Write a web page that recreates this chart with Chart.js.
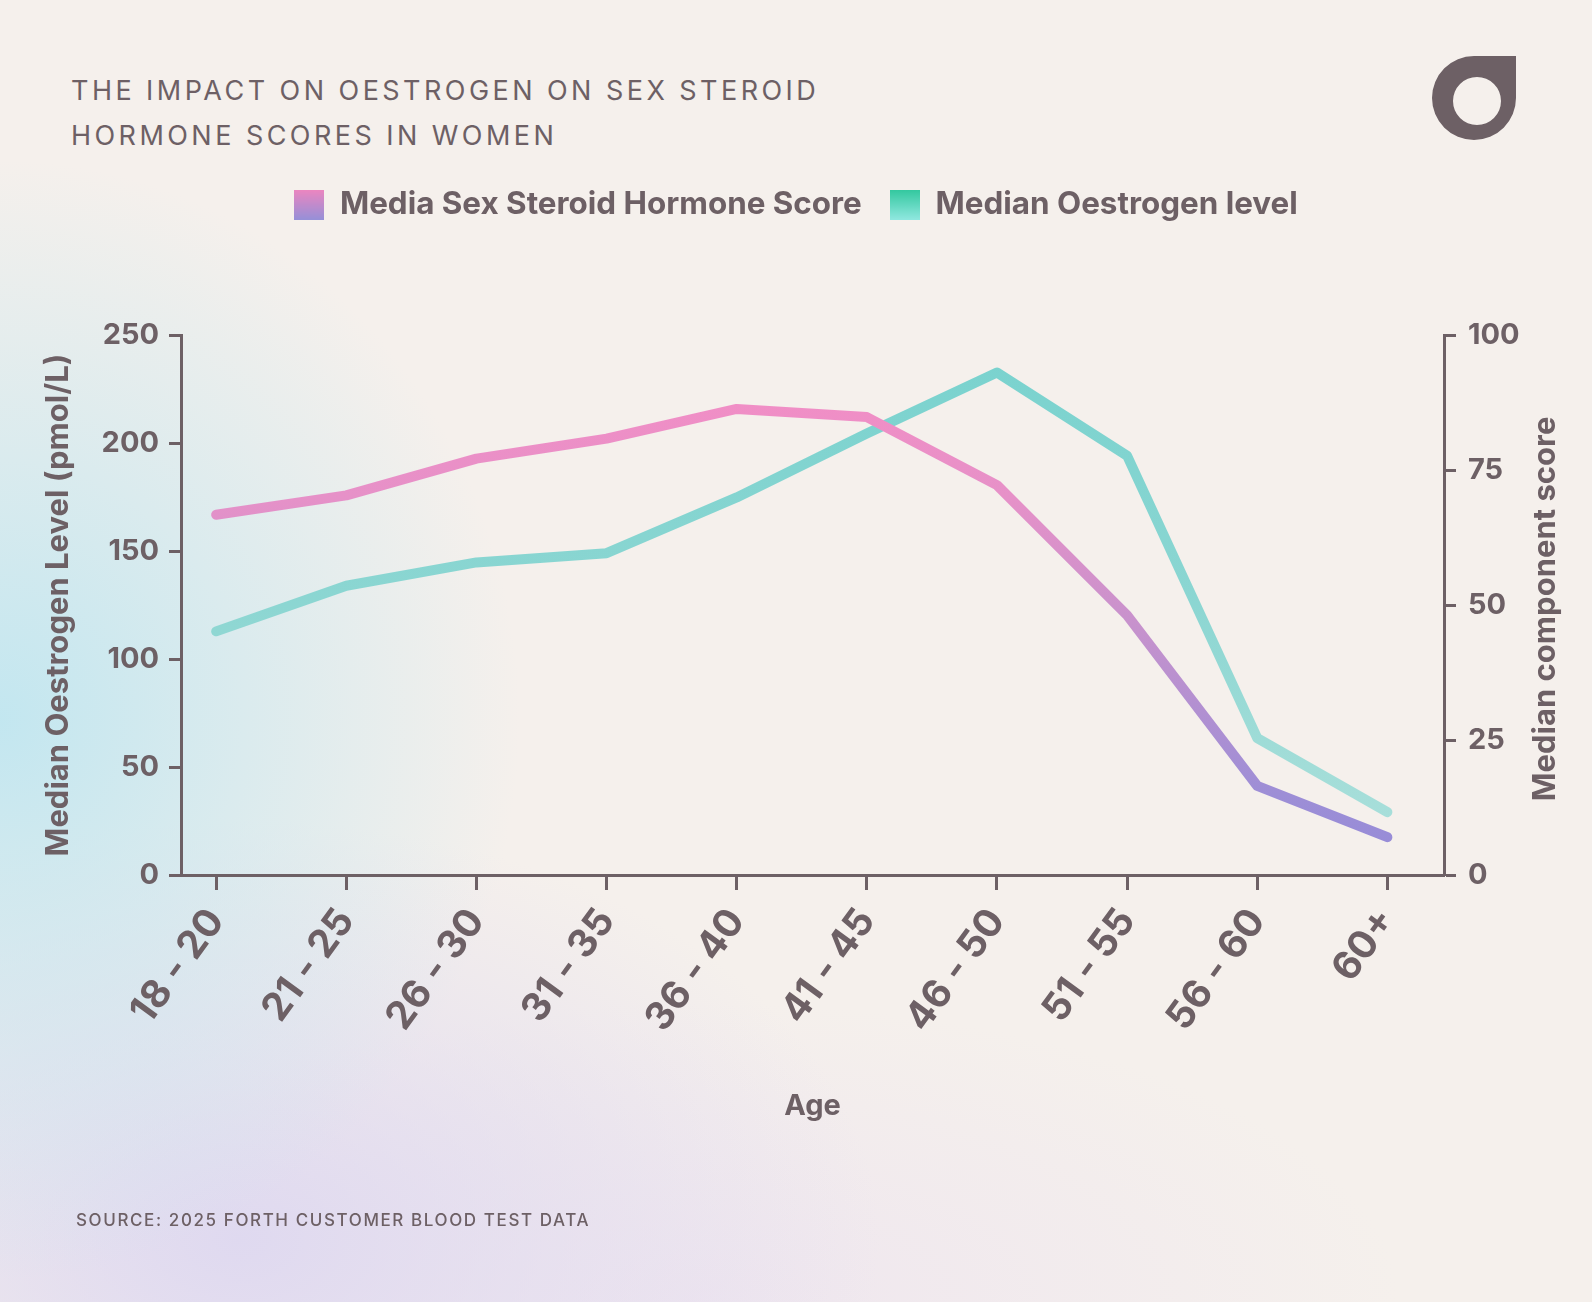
<!DOCTYPE html>
<html>
<head>
<meta charset="utf-8">
<script src="https://cdn.jsdelivr.net/npm/chart.js@4.4.1/dist/chart.umd.min.js"></script>
<style>
  html, body { margin: 0; padding: 0; }
  body {
    width: 1592px; height: 1302px; position: relative; overflow: hidden;
    background:
      radial-gradient(ellipse 520px 560px at 0px 720px, rgba(192, 230, 240, 0.95), rgba(192, 230, 240, 0) 100%),
      radial-gradient(ellipse 640px 420px at 240px 1240px, rgba(222, 216, 240, 0.95), rgba(222, 216, 240, 0) 100%),
      radial-gradient(ellipse 700px 300px at 700px 1302px, rgba(236, 226, 240, 0.7), rgba(236, 226, 240, 0) 100%),
      #f5f0ec;
    font-family: Inter, "Noto Sans", sans-serif;
    color: #6d6065;
  }
  #title {
    position: absolute; left: 71px; top: 68px;
    font-size: 27px; font-weight: 400; letter-spacing: 3.45px; line-height: 45px;
  }
  #source {
    position: absolute; left: 76px; top: 1210px;
    font-size: 17px; font-weight: 500; letter-spacing: 1.6px;
  }
  #logo { position: absolute; left: 1432px; top: 56px; }
  #wrap { position: absolute; left: 0; top: 0; width: 1592px; height: 1302px; }
</style>
</head>
<body>
<div id="title">THE IMPACT ON OESTROGEN ON SEX STEROID<br>HORMONE SCORES IN WOMEN</div>
<svg id="logo" width="84" height="84" viewBox="0 0 84 84">
  <path fill="#6d6065" fill-rule="evenodd"
    d="M0 42 A42 42 0 0 0 42 84 A42 42 0 0 0 84 42 L84 0 L42 0 A42 42 0 0 0 0 42 Z
       M21 45 A24 24 0 1 0 69 45 A24 24 0 1 0 21 45 Z"/>
</svg>
<div id="wrap"><canvas id="myChart"></canvas></div>
<div id="source">SOURCE: 2025 FORTH CUSTOMER BLOOD TEST DATA</div>

<script>
const ageGroups = ['18 - 20', '21 - 25', '26 - 30', '31 - 35', '36 - 40', '41 - 45', '46 - 50', '51 - 55', '56 - 60', '60+'];
const hormoneScore = [66.7, 70.3, 77.1, 80.8, 86.3, 84.8, 72.2, 48.1, 16.5, 7.0];
const oestrogenLevel = [112.8, 133.9, 144.7, 149.0, 174.8, 204.4, 232.6, 194.1, 63.4, 29.1];

const textColor = '#6d6065';

// little gradient squares for the legend
function legendBox(top, bottom) {
  const c = document.createElement('canvas');
  c.width = 30; c.height = 30;
  const g = c.getContext('2d');
  const grad = g.createLinearGradient(0, 0, 0, 30);
  grad.addColorStop(0, top);
  grad.addColorStop(1, bottom);
  g.fillStyle = grad;
  g.fillRect(0, 0, 30, 30);
  return c;
}

function vGradient(ctx, stops) {
  const area = ctx.chart.chartArea;
  if (!area) return stops[0][1];
  const grad = ctx.chart.ctx.createLinearGradient(0, area.top, 0, area.bottom);
  stops.forEach(s => grad.addColorStop(s[0], s[1]));
  return grad;
}

const pinkStops = [[0, '#f88cc4'], [0.3, '#e691c8'], [0.55, '#c592cd'], [0.85, '#9d8ed6'], [1, '#948bd8']];
const tealStops = [[0, '#78d2ce'], [0.5, '#8cd6d2'], [0.8, '#a2ddd8'], [1, '#ade0dc']];

// push the plot down below the legend
const legendSpacer = {
  id: 'legendSpacer',
  beforeInit(chart) {
    const fit = chart.legend.fit;
    chart.legend.fit = function () {
      fit.bind(chart.legend)();
      this.height = 174;
    };
  }
};

// right axis title reads bottom-to-top in the original
const rightTitle = {
  id: 'rightTitle',
  afterDraw(chart) {
    const s = chart.scales.y1;
    const c = chart.ctx;
    c.save();
    c.translate(s.right - 46, (s.top + s.bottom) / 2 + 4);
    c.rotate(-Math.PI / 2);
    c.font = '700 31px Inter';
    c.fillStyle = textColor;
    c.textAlign = 'center';
    c.textBaseline = 'middle';
    c.fillText('Median component score', 0, 0);
    c.restore();
  }
};

const boldFont = size => ({ family: 'Inter', weight: '700', size: size });

const ctx = document.getElementById('myChart');

new Chart(ctx, {
  type: 'line',
  data: {
    datasets: [{
      label: 'Media Sex Steroid Hormone Score',
      data: hormoneScore.map((v, i) => ({ x: i, y: v })),
      yAxisID: 'y1',
      borderColor: c => vGradient(c, pinkStops),
      borderWidth: 10,
      borderCapStyle: 'round',
      borderJoinStyle: 'round',
      pointRadius: 0,
      pointStyle: legendBox('#ec86c0', '#9690d8')
    }, {
      label: 'Median Oestrogen level',
      data: oestrogenLevel.map((v, i) => ({ x: i, y: v })),
      yAxisID: 'y',
      borderColor: c => vGradient(c, tealStops),
      borderWidth: 10,
      borderCapStyle: 'round',
      borderJoinStyle: 'round',
      pointRadius: 0,
      pointStyle: legendBox('#33c89f', '#90e8e0')
    }]
  },
  options: {
    responsive: true,
    maintainAspectRatio: false,
    animation: false,
    layout: { padding: { top: 161, left: 0, right: 0, bottom: 160 } },
    plugins: {
      legend: {
        position: 'top',
        labels: {
          usePointStyle: true,
          color: textColor,
          font: boldFont(31.4),
          padding: 28,
          boxWidth: 30
        }
      },
      tooltip: { enabled: false }
    },
    scales: {
      x: {
        type: 'linear',
        min: -0.27,
        max: 9.435,
        afterBuildTicks: s => { s.ticks = ageGroups.map((_, i) => ({ value: i })); },
        afterFit: s => { s.height = 267; },
        ticks: {
          callback: v => ageGroups[v],
          color: textColor,
          font: boldFont(39),
          minRotation: 54,
          maxRotation: 54,
          padding: 10
        },
        grid: { drawOnChartArea: false, tickLength: 15, tickWidth: 3, tickColor: textColor },
        border: { color: textColor, width: 3 },
        title: { display: true, text: 'Age', color: textColor, font: boldFont(29), padding: { top: 30, bottom: 18 } }
      },
      y: {
        position: 'left',
        min: 0,
        max: 250,
        afterFit: s => { s.width = 181; },
        ticks: { stepSize: 50, color: textColor, font: boldFont(29), padding: 10 },
        grid: { drawOnChartArea: false, tickLength: 12, tickWidth: 3, tickColor: textColor },
        border: { color: textColor, width: 3 },
        title: { display: true, text: 'Median Oestrogen Level (pmol/L)', color: textColor, font: boldFont(31), padding: { top: 40 } }
      },
      y1: {
        position: 'right',
        min: 0,
        max: 100,
        afterFit: s => { s.width = 148; },
        ticks: { stepSize: 25, color: textColor, font: boldFont(29), padding: 12 },
        grid: { drawOnChartArea: false, tickLength: 12, tickWidth: 3, tickColor: textColor },
        border: { color: textColor, width: 3 },
        title: { display: false }
      }
    }
  },
  plugins: [legendSpacer, rightTitle]
});
</script>
</body>
</html>
